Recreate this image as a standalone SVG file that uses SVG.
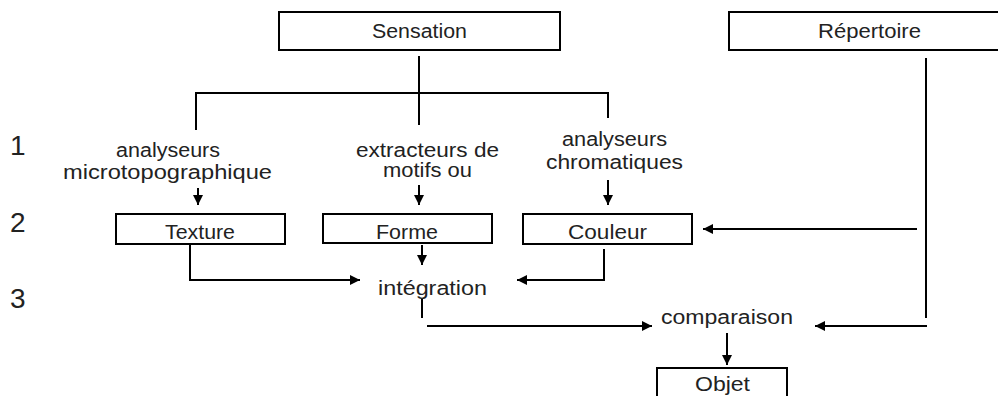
<svg xmlns="http://www.w3.org/2000/svg" width="998" height="396" viewBox="0 0 998 396">
<style>
text{font-family:"Liberation Sans",Arial,sans-serif;font-size:20px;fill:#222;}
.num{font-size:28px;}
.box{fill:#fff;stroke:#000;stroke-width:2;}
.c{fill:none;stroke:#000;stroke-width:2;}
</style>
<defs>
<marker id="ah" markerUnits="userSpaceOnUse" markerWidth="10" markerHeight="10" refX="10" refY="5" orient="auto">
<path d="M0,0 L10,5 L0,10 z" fill="#000"/>
</marker>
</defs>
<rect width="998" height="396" fill="#fff"/>
<g id="labels-levels">
<text class="num" x="10" y="155">1</text>
<text class="num" x="10" y="232">2</text>
<text class="num" x="10" y="308">3</text>
</g>
<g id="connectors">
<path class="c" d="M419,56 V125"/>
<path class="c" d="M196,93 H608"/>
<path class="c" d="M196,92 V130"/>
<path class="c" d="M608,92 V118"/>
<path class="c" d="M198,188 V205" marker-end="url(#ah)"/>
<path class="c" d="M419,185 V205" marker-end="url(#ah)"/>
<path class="c" d="M608,180 V205" marker-end="url(#ah)"/>
<path class="c" d="M926,58 V318"/>
<path class="c" d="M917,229 H703" marker-end="url(#ah)"/>
<path class="c" d="M190,243 V280 H360" marker-end="url(#ah)"/>
<path class="c" d="M422,245 V265" marker-end="url(#ah)"/>
<path class="c" d="M604,249 V280 H517" marker-end="url(#ah)"/>
<path class="c" d="M422,299 V318"/>
<path class="c" d="M427,326 H652" marker-end="url(#ah)"/>
<path class="c" d="M927,326 H815" marker-end="url(#ah)"/>
<path class="c" d="M727,333 V365" marker-end="url(#ah)"/>
</g>
<g id="sensation">
<rect class="box" x="279" y="12" width="281" height="38"/>
<text x="372" y="38" textLength="95" lengthAdjust="spacingAndGlyphs">Sensation</text>
</g>
<g id="repertoire">
<rect class="box" x="729" y="12" width="275" height="38"/>
<text x="818" y="38" textLength="103" lengthAdjust="spacingAndGlyphs">Répertoire</text>
</g>
<g id="analyseurs-micro">
<text x="116" y="157" textLength="104" lengthAdjust="spacingAndGlyphs">analyseurs</text>
<text x="63" y="179" textLength="209" lengthAdjust="spacingAndGlyphs">microtopographique</text>
</g>
<g id="extracteurs">
<text x="356" y="157" textLength="143" lengthAdjust="spacingAndGlyphs">extracteurs de</text>
<text x="383" y="177" textLength="89" lengthAdjust="spacingAndGlyphs">motifs ou</text>
</g>
<g id="analyseurs-chrom">
<text x="562" y="146" textLength="105" lengthAdjust="spacingAndGlyphs">analyseurs</text>
<text x="546" y="169" textLength="137" lengthAdjust="spacingAndGlyphs">chromatiques</text>
</g>
<g id="texture">
<rect class="box" x="116" y="214" width="169" height="30"/>
<text x="165" y="239" textLength="70" lengthAdjust="spacingAndGlyphs">Texture</text>
</g>
<g id="forme">
<rect class="box" x="323" y="214" width="169" height="29"/>
<text x="376" y="239" textLength="62" lengthAdjust="spacingAndGlyphs">Forme</text>
</g>
<g id="couleur">
<rect class="box" x="523" y="214" width="169" height="30"/>
<text x="568" y="239" textLength="79" lengthAdjust="spacingAndGlyphs">Couleur</text>
</g>
<g id="integration">
<text x="378" y="295" textLength="109" lengthAdjust="spacingAndGlyphs">intégration</text>
</g>
<g id="comparaison">
<text x="661" y="324" textLength="132" lengthAdjust="spacingAndGlyphs">comparaison</text>
</g>
<g id="objet">
<rect class="box" x="657" y="368" width="130" height="40"/>
<text x="695" y="391" textLength="55" lengthAdjust="spacingAndGlyphs">Objet</text>
</g>
</svg>
